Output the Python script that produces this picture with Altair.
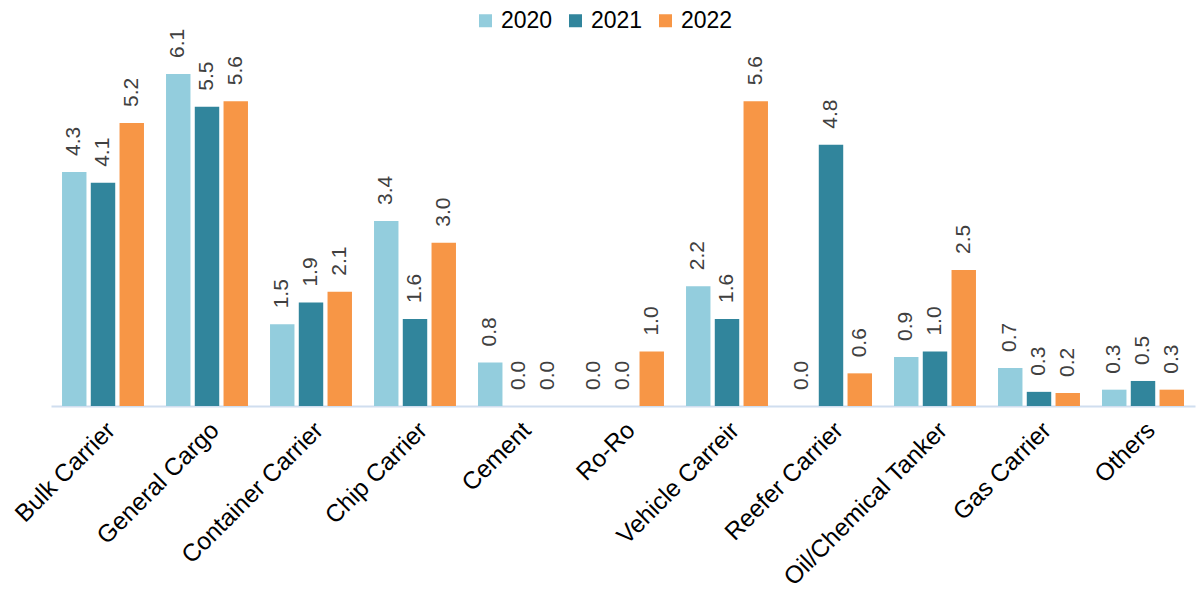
import altair as alt
import pandas as pd

categories = ["Bulk Carrier", "General Cargo", "Container Carrier", "Chip Carrier",
              "Cement", "Ro-Ro", "Vehicle Carreir", "Reefer Carrier",
              "Oil/Chemical Tanker", "Gas Carrier", "Others"]
years = ["2020", "2021", "2022"]
v2020 = [4.3, 6.1, 1.5, 3.4, 0.8, 0.0, 2.2, 0.0, 0.9, 0.7, 0.3]
v2021 = [4.1, 5.5, 1.9, 1.6, 0.0, 0.0, 1.6, 4.8, 1.0, 0.26, 0.46]
v2022 = [5.2, 5.6, 2.1, 3.0, 0.0, 1.0, 5.6, 0.6, 2.5, 0.24, 0.3]
colors = ["#93CDDD", "#31859C", "#F79646"]

rows = []
for y, vals in zip(years, [v2020, v2021, v2022]):
    for c, v in zip(categories, vals):
        rows.append({"cat": c, "year": y, "value": v})
df = pd.DataFrame(rows)

FONT = "Liberation Sans"

x = alt.X("cat:N", sort=categories,
          scale=alt.Scale(paddingInner=0.212, paddingOuter=0.106),
          axis=alt.Axis(title=None, labelAngle=-45, labelFontSize=24.5, labelFont=FONT,
                        labelColor="black", ticks=False, domainColor="#D0DEEF",
                        domainWidth=2, labelPadding=12, labelLimit=0))
xo = alt.XOffset("year:N", sort=years, scale=alt.Scale(paddingInner=0.15, paddingOuter=0))
y = alt.Y("value:Q", scale=alt.Scale(domain=[0, 7], nice=False), axis=None)

bars = alt.Chart(df).mark_bar().encode(
    x=x, xOffset=xo, y=y,
    color=alt.Color("year:N", sort=years,
                    scale=alt.Scale(domain=years, range=colors),
                    legend=alt.Legend(title=None, orient="none", direction="horizontal",
                                      legendX=423, legendY=-16, symbolType="square",
                                      symbolSize=169, symbolStrokeWidth=0,
                                      labelFontSize=23, labelFont=FONT, labelColor="black",
                                      labelOffset=4, columnPadding=11, padding=0))
)

labels = alt.Chart(df).mark_text(angle=270, align="left", baseline="middle", dx=16,
                                 fontSize=21, font=FONT, color="#404040").encode(
    x=x, xOffset=xo, y=y,
    text=alt.Text("value:Q", format=".1f")
)

chart = (bars + labels).properties(
    width=1144, height=381,
    autosize=alt.AutoSizeParams(type="none"),
    padding={"left": 51, "top": 25, "right": 4, "bottom": 186}
).configure_view(stroke=None)

chart.save("out.html", embed_options={"renderer": "svg", "actions": False})
